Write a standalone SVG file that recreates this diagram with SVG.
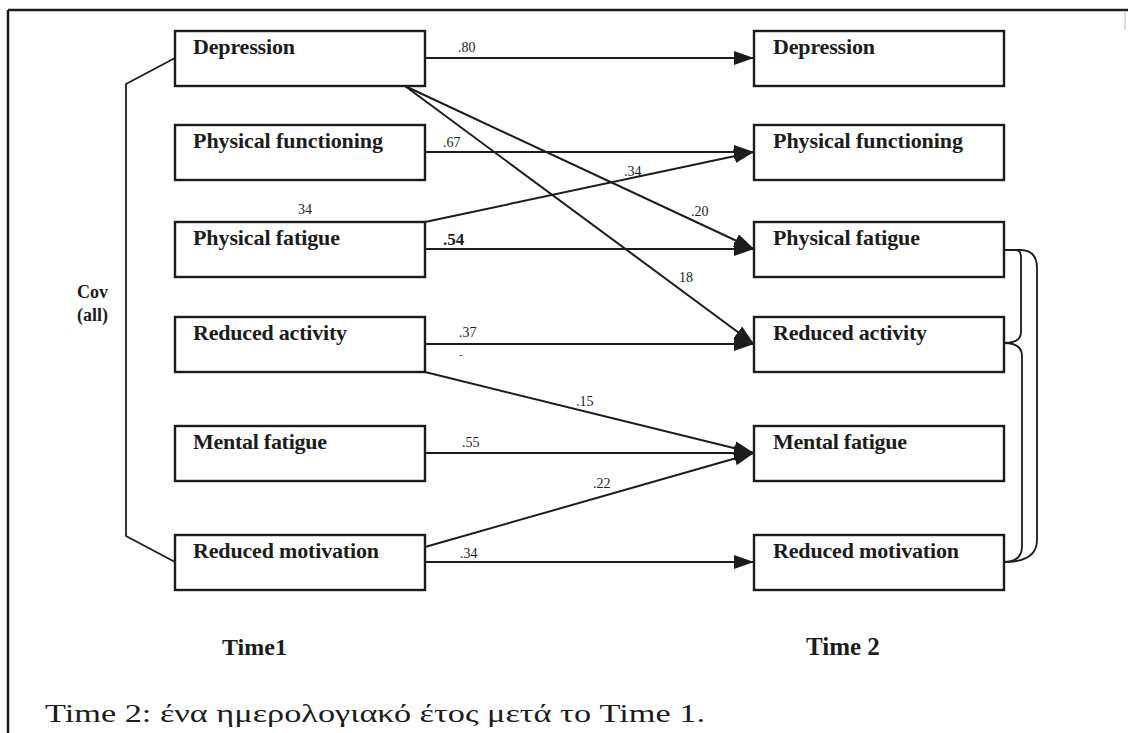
<svg xmlns="http://www.w3.org/2000/svg" width="1128" height="733" viewBox="0 0 1128 733">
  <defs>
    <style>
      .box { fill: #ffffff; stroke: #1c1c1c; stroke-width: 2.4; }
      .lbl { font-family: "Liberation Serif", "Times New Roman", serif; font-size: 22px; font-weight: bold; fill: #1c1c1c; }
      .num { font-family: "Liberation Serif", "Times New Roman", serif; font-size: 14px; fill: #1c1c1c; }
      .edge { fill: none; stroke: #1c1c1c; stroke-width: 2; }
      .cov { fill: none; stroke: #1c1c1c; stroke-width: 1.8; }
      .cap { font-family: "Liberation Serif", "Times New Roman", serif; font-size: 25px; fill: #1c1c1c; }
    </style>
    <marker id="arr" viewBox="0 0 20 14" refX="20" refY="7" markerWidth="20" markerHeight="14" markerUnits="userSpaceOnUse" orient="auto">
      <path d="M0,0 L20,7 L0,14 z" fill="#1c1c1c"/>
    </marker>
  </defs>
  <rect x="0" y="0" width="1128" height="733" fill="#ffffff"/>
  <!-- page border -->
  <g id="border">
    <line x1="8" y1="10" x2="1128" y2="10" stroke="#1c1c1c" stroke-width="2.5"/>
    <line x1="8" y1="10" x2="8" y2="733" stroke="#1c1c1c" stroke-width="2.5"/>
    <line x1="1125" y1="12" x2="1125" y2="30" stroke="#bbbbbb" stroke-width="1"/>
  </g>

  <!-- connectors -->
  <g id="connectors">
    <line class="edge" x1="425" y1="58" x2="754" y2="58" marker-end="url(#arr)"/>
    <line class="edge" x1="425" y1="152" x2="754" y2="152" marker-end="url(#arr)"/>
    <line class="edge" x1="425" y1="249" x2="754" y2="249" marker-end="url(#arr)"/>
    <line class="edge" x1="425" y1="344" x2="754" y2="344" marker-end="url(#arr)"/>
    <line class="edge" x1="425" y1="453" x2="754" y2="453" marker-end="url(#arr)"/>
    <line class="edge" x1="425" y1="562" x2="754" y2="562" marker-end="url(#arr)"/>
    <line class="edge" x1="405" y1="86" x2="754" y2="249" marker-end="url(#arr)"/>
    <line class="edge" x1="405" y1="86" x2="754" y2="344" marker-end="url(#arr)"/>
    <line class="edge" x1="425" y1="222" x2="754" y2="152" marker-end="url(#arr)"/>
    <line class="edge" x1="425" y1="372" x2="754" y2="453" marker-end="url(#arr)"/>
    <line class="edge" x1="425" y1="547" x2="754" y2="453" marker-end="url(#arr)"/>
    <!-- covariance, time 1 -->
    <polyline class="cov" points="175,58 126,84 126,536 175,562"/>
    <!-- covariances, time 2 -->
    <path class="cov" d="M1004,250 H1016 Q1021,250 1021,258 V332 Q1021,343 1004,343"/>
    <path class="cov" d="M1004,343 Q1022,343 1022,356 V546 Q1022,562 1004,562"/>
    <path class="cov" d="M1004,250 H1020 Q1037,250 1037,268 V540 Q1037,562 1004,562"/>
  </g>

  <!-- edge labels -->
  <g id="edge-labels">
    <text class="num" x="458" y="52">.80</text>
    <text class="num" x="443" y="147">.67</text>
    <text class="num" x="298" y="214">34</text>
    <text class="num" x="624" y="176">.34</text>
    <text class="num" x="691" y="216">.20</text>
    <text class="num" x="443" y="245" style="font-size:17px;font-weight:bold">.54</text>
    <text class="num" x="679" y="282">18</text>
    <text class="num" x="459" y="337">.37</text>
    <text class="num" x="459" y="358" style="font-size:10px">-</text>
    <text class="num" x="576" y="406">.15</text>
    <text class="num" x="462" y="447">.55</text>
    <text class="num" x="593" y="488">.22</text>
    <text class="num" x="460" y="558">.34</text>
  </g>

  <!-- Time 1 nodes -->
  <g id="t1-depression"><rect class="box" x="175" y="31" width="250" height="55"/><text class="lbl" x="193" y="54" textLength="102" lengthAdjust="spacing">Depression</text></g>
  <g id="t1-physical-functioning"><rect class="box" x="175" y="125" width="250" height="55"/><text class="lbl" x="193" y="148" textLength="190" lengthAdjust="spacing">Physical functioning</text></g>
  <g id="t1-physical-fatigue"><rect class="box" x="175" y="222" width="250" height="55"/><text class="lbl" x="193" y="245" textLength="147" lengthAdjust="spacing">Physical fatigue</text></g>
  <g id="t1-reduced-activity"><rect class="box" x="175" y="317" width="250" height="55"/><text class="lbl" x="193" y="340" textLength="154" lengthAdjust="spacing">Reduced activity</text></g>
  <g id="t1-mental-fatigue"><rect class="box" x="175" y="426" width="250" height="55"/><text class="lbl" x="193" y="449" textLength="134" lengthAdjust="spacing">Mental fatigue</text></g>
  <g id="t1-reduced-motivation"><rect class="box" x="175" y="535" width="250" height="55"/><text class="lbl" x="193" y="558" textLength="186" lengthAdjust="spacing">Reduced motivation</text></g>

  <!-- Time 2 nodes -->
  <g id="t2-depression"><rect class="box" x="754" y="31" width="250" height="55"/><text class="lbl" x="773" y="54" textLength="102" lengthAdjust="spacing">Depression</text></g>
  <g id="t2-physical-functioning"><rect class="box" x="754" y="125" width="250" height="55"/><text class="lbl" x="773" y="148" textLength="190" lengthAdjust="spacing">Physical functioning</text></g>
  <g id="t2-physical-fatigue"><rect class="box" x="754" y="222" width="250" height="55"/><text class="lbl" x="773" y="245" textLength="147" lengthAdjust="spacing">Physical fatigue</text></g>
  <g id="t2-reduced-activity"><rect class="box" x="754" y="317" width="250" height="55"/><text class="lbl" x="773" y="340" textLength="154" lengthAdjust="spacing">Reduced activity</text></g>
  <g id="t2-mental-fatigue"><rect class="box" x="754" y="426" width="250" height="55"/><text class="lbl" x="773" y="449" textLength="134" lengthAdjust="spacing">Mental fatigue</text></g>
  <g id="t2-reduced-motivation"><rect class="box" x="754" y="535" width="250" height="55"/><text class="lbl" x="773" y="558" textLength="186" lengthAdjust="spacing">Reduced motivation</text></g>

  <!-- other labels -->
  <g id="labels">
    <text class="lbl" x="77" y="298" style="font-size:18px">Cov</text>
    <text class="lbl" x="77" y="321" style="font-size:18px">(all)</text>
    <text class="lbl" x="222" y="655" style="font-size:24px">Time1</text>
    <text class="lbl" x="806" y="655" style="font-size:25px">Time 2</text>
    <text class="cap" x="45" y="722" textLength="660" lengthAdjust="spacingAndGlyphs">Time 2: ένα ημερολογιακό έτος μετά το Time 1.</text>
  </g>
</svg>
